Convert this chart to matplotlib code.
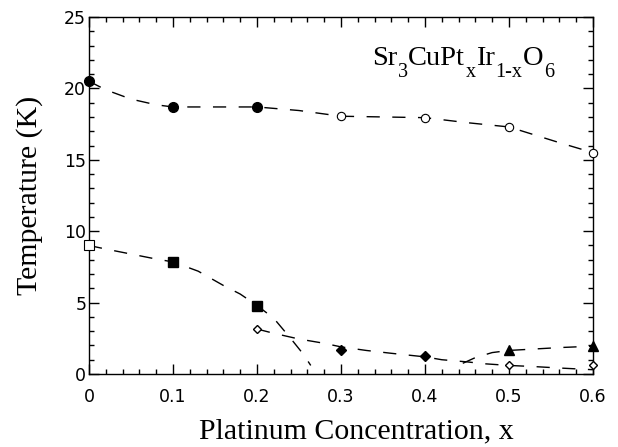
import matplotlib
matplotlib.use("Agg")
import matplotlib.pyplot as plt
from matplotlib.ticker import MultipleLocator

# ---- data ----
# upper transition: filled circles (x<=0.2), open circles (x>=0.3)
circ_fill_x = [0.0, 0.1, 0.2]
circ_fill_y = [20.5, 18.7, 18.7]
circ_open_x = [0.3, 0.4, 0.5, 0.6]
circ_open_y = [18.05, 17.95, 17.3, 15.5]

# lower transition: squares
sq_open_x = [0.0]
sq_open_y = [9.0]
sq_fill_x = [0.1, 0.2]
sq_fill_y = [7.85, 4.75]

# diamonds
dia_open_x = [0.2, 0.5, 0.6]
dia_open_y = [3.15, 0.6, 0.6]
dia_fill_x = [0.3, 0.4]
dia_fill_y = [1.65, 1.25]

# triangles
tri_x = [0.5, 0.6]
tri_y = [1.7, 1.95]

# dashed guide curves (hand-drawn guides)
g1_x = [0.0, 0.02, 0.05, 0.08, 0.1, 0.15, 0.2, 0.25, 0.3, 0.35, 0.4, 0.45, 0.5, 0.53, 0.56, 0.58, 0.6]
g1_y = [20.5, 19.9, 19.25, 18.85, 18.7, 18.7, 18.7, 18.45, 18.05, 18.0, 17.95, 17.6, 17.3, 16.75, 16.2, 15.85, 15.5]
g2_x = [0.0, 0.02, 0.05, 0.08, 0.1, 0.13, 0.16, 0.18, 0.2, 0.22, 0.24, 0.255, 0.264]
g2_y = [9.0, 8.75, 8.4, 8.05, 7.85, 7.2, 6.2, 5.6, 4.8, 3.9, 2.5, 1.4, 0.6]
g3_x = [0.2, 0.22, 0.25, 0.28, 0.3, 0.33, 0.36, 0.4, 0.42, 0.45, 0.47, 0.5, 0.53, 0.56, 0.6]
g3_y = [3.15, 2.85, 2.45, 2.15, 1.9, 1.65, 1.45, 1.2, 1.0, 0.85, 0.72, 0.6, 0.52, 0.42, 0.3]
g4_x = [0.445, 0.46, 0.48, 0.5, 0.53, 0.56, 0.6]
g4_y = [0.75, 1.15, 1.5, 1.65, 1.75, 1.85, 1.95]

xticks = [0, 0.1, 0.2, 0.3, 0.4, 0.5, 0.6]
xticklabels = ['0', '0.1', '0.2', '0.3', '0.4', '0.5', '0.6']
yticks = [0, 5, 10, 15, 20, 25]

formula_parts = [("Sr", False), ("3", True), ("CuPt", False), ("x", True),
                 ("Ir", False), ("1-x", True), ("O", False), ("6", True)]

# ---- figure ----
W, H = 618, 447
fig = plt.figure(figsize=(W / 100, H / 100), dpi=100)
ax = fig.add_axes([0.144, 0.1633, 0.8155, 0.7987])

dash = dict(color='black', lw=1.0, dashes=(9.5, 9))
for gx, gy in [(g1_x, g1_y), (g2_x, g2_y), (g3_x, g3_y), (g4_x, g4_y)]:
    ax.plot(gx, gy, **dash)

mk = dict(linestyle='none', color='black', clip_on=False, zorder=5)
ax.plot(circ_fill_x, circ_fill_y, marker='o', ms=7, mfc='black', **mk)
ax.plot(circ_open_x, circ_open_y, marker='o', ms=6, mfc='white', mew=0.8, **mk)
ax.plot(sq_open_x, sq_open_y, marker='s', ms=6.5, mfc='white', mew=0.8, **mk)
ax.plot(sq_fill_x, sq_fill_y, marker='s', ms=7.5, mfc='black', **mk)
ax.plot(dia_open_x, dia_open_y, marker='D', ms=4.3, mfc='white', mew=1.0, **mk)
ax.plot(dia_fill_x, dia_fill_y, marker='D', ms=5, mfc='black', **mk)
ax.plot(tri_x, tri_y, marker='^', ms=6.8, mfc='black', **mk)

ax.set_xlim(0, 0.6)
ax.set_ylim(0, 25)
ax.set_xticks(xticks)
ax.set_xticklabels(xticklabels)
ax.set_yticks(yticks)
ax.xaxis.set_minor_locator(MultipleLocator(0.02))
ax.yaxis.set_minor_locator(MultipleLocator(1))
ax.tick_params(which='both', direction='in', top=True, right=True, width=1.0, colors='black')
ax.tick_params(which='major', length=7)
ax.tick_params(which='minor', length=3.6)
ax.tick_params(axis='x', which='major', pad=10)
ax.tick_params(axis='y', which='major', pad=2)
for lab in ax.get_xticklabels() + ax.get_yticklabels():
    lab.set_fontfamily('DejaVu Sans')
    lab.set_fontsize(12.5)
for s in ax.spines.values():
    s.set_linewidth(1.0)

ax.set_xlabel('Platinum Concentration, x', fontfamily='Liberation Serif', fontsize=21.5)
ax.xaxis.set_label_coords(0.53, -0.179)
ax.xaxis.label.set_va('baseline')
ax.set_ylabel('Temperature (K)', fontfamily='Liberation Serif', fontsize=21.5)
ax.yaxis.set_label_coords(-0.118, 0.5)
ax.yaxis.label.set_va('center')

# formula text, built piece by piece (main text + lowered subscripts)
renderer = fig.canvas.get_renderer()
px = 372.0
for txt, sub in formula_parts:
    size = 14.5 if sub else 20.5
    base = 77.0 if sub else 65.0
    t = fig.text(px / W, (H - base) / H, txt, fontfamily='Liberation Serif',
                 fontsize=size, ha='left', va='baseline')
    bb = t.get_window_extent(renderer=renderer)
    px += bb.width + 0.5

fig.savefig('out.png', dpi=100)
